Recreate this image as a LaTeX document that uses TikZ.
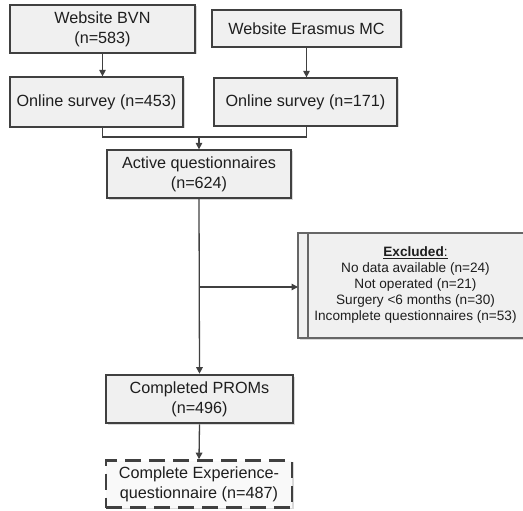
\documentclass[tikz,border=0pt]{standalone}
\usepackage{fontspec}
\setmainfont{Liberation Sans}
\usetikzlibrary{arrows.meta,shadows}
\definecolor{boxline}{HTML}{404040}
\definecolor{boxfill}{HTML}{F0F0F0}
\definecolor{txt}{HTML}{1E1E1E}
\tikzset{
  fbox/.style={draw=boxline, line width=1.3pt, fill=boxfill, align=center, text=txt,
    font=\fontsize{16.2}{20}\selectfont, inner sep=0pt,
    drop shadow={shadow xshift=1.5pt, shadow yshift=-1.5pt, fill=black!25, opacity=0.6}},
  thickbox/.style={fbox, line width=2.6pt},
  dashbox/.style={fbox, line width=2.6pt, dash pattern=on 16pt off 8pt, fill=white!60!boxfill},
  conn/.style={draw=boxline, line width=1.3pt},
  arr/.style={conn, -{Triangle[length=6.5pt,width=6.5pt]}},
}
\begin{document}
\begin{tikzpicture}[x=1pt,y=-1pt]
\useasboundingbox (0,0) rectangle (523,511);
\node[fbox, minimum width=185pt, minimum height=48pt] (b1) at (102.5,29) {Website BVN\\(n=583)};
\node[fbox, minimum width=189pt, minimum height=37pt] (b2) at (306.5,28.5) {Website Erasmus MC};
\node[fbox, minimum width=173pt, minimum height=50pt] (b3) at (96.5,102) {Online survey (n=453)};
\node[fbox, minimum width=183pt, minimum height=48pt] (b4) at (305.5,102) {Online survey (n=171)};
\node[fbox, minimum width=184pt, minimum height=48pt] (b5) at (199,174) {Active questionnaires\\(n=624)};
\node[thickbox, minimum width=187pt, minimum height=48pt] (b6) at (199.5,399) {Completed PROMs\\(n=496)};
\node[dashbox, minimum width=186pt, minimum height=47pt] (b7) at (199,484) {Complete Experience-\\questionnaire (n=487)};
% excluded box
\coordinate (exTL) at (298,233);
\coordinate (exBR) at (540,338);
\fill[black!25, opacity=0.6] (299.5,234.5) rectangle (541.5,339.5);
\draw[draw=boxline!80, line width=1.1pt, fill=boxfill] (exTL) rectangle (exBR);
\draw[draw=boxline!80, line width=1.1pt] (308,233) -- (308,338);
\node[align=center, text=txt, font=\fontsize{13.6}{16}\selectfont, inner sep=0pt] (ex) at (415.5,285)
  {\underline{\textbf{Excluded}:}\\No data available (n=24)\\Not operated (n=21)\\Surgery <6 months (n=30)\\Incomplete questionnaires (n=53)};
\coordinate (exL) at (298,287);
% connectors
\draw[arr] (b1.south) -- (b1.south |- b3.north);
\draw[arr] (b2.south) -- (b2.south |- b4.north);
\coordinate (mj) at (199,137);
\draw[conn] (b1.south |- b3.south) -- (b1.south |- mj) -- (b2.south |- mj) -- (b2.south |- b4.south);
\draw[arr] (mj) -- (b5.north);
\draw[arr] (b5.south) -- (b6.north);
\draw[arr] (b5.south |- exL) -- (exL);
\draw[arr] (b6.south) -- (b7.north);
\end{tikzpicture}
\end{document}
